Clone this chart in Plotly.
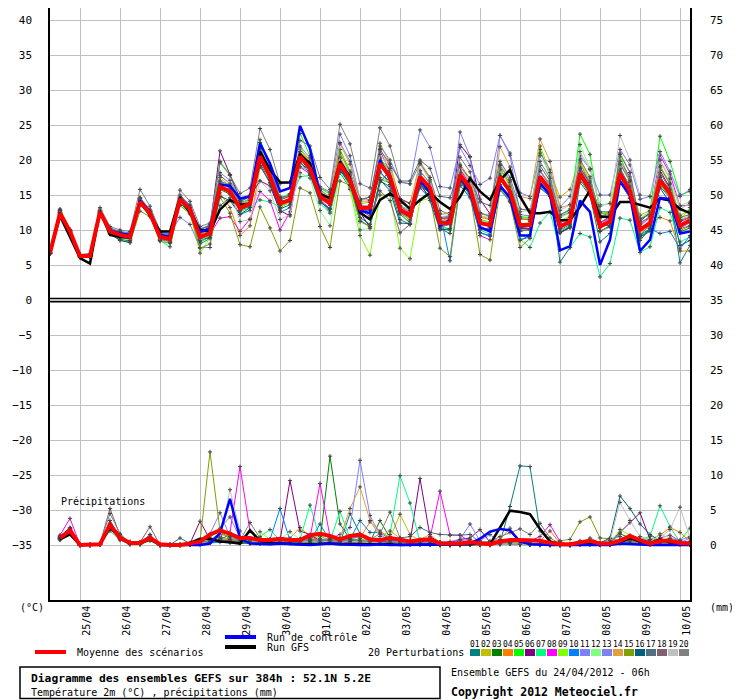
import pandas as pd
import plotly.graph_objects as go

# 6-hourly steps, 24/04/2012 06h -> 10/05/2012 06h (384h)
times = pd.date_range("2012-04-24 06:00", periods=65, freq="6h")
day_ticks = pd.date_range("2012-04-25", periods=16, freq="D")
day_labels = ["25/04", "26/04", "27/04", "28/04", "29/04", "30/04", "01/05", "02/05",
              "03/05", "04/05", "05/05", "06/05", "07/05", "08/05", "09/05", "10/05"]
temp_ticks = [-35, -30, -25, -20, -15, -10, -5, 0, 5, 10, 15, 20, 25, 30, 35, 40]
precip_ticks = [0, 5, 10, 15, 20, 25, 30, 35, 40, 45, 50, 55, 60, 65, 70, 75]

member_names = ["01", "02", "03", "04", "05", "06", "07", "08", "09", "10",
                "11", "12", "13", "14", "15", "16", "17", "18", "19", "20"]
member_colors = ["#008080", "#c0c000", "#008000", "#ff8000", "#00ff00", "#800080", "#00ff80",
                 "#ff00ff", "#80ff00", "#0080ff", "#8080ff", "#80ff80", "#8080f0", "#e0a040",
                 "#80a000", "#006080", "#507080", "#806070", "#c0c0c0", "#808080"]

# --- température 2m (°C) ---
temp_mean = [6.7, 12.4, 9.8, 6.3, 6.3, 12.6, 9.8, 9.3,
             9.0, 14.0, 12.4, 9.0, 8.7, 14.4, 12.9, 9.0,
             9.5, 16.2, 15.5, 13.1, 13.8, 20.5, 17.6, 13.8,
             14.3, 20.5, 18.8, 14.8, 13.8, 19.5, 17.1, 13.1,
             13.2, 19.5, 17.6, 12.9, 12.0, 17.6, 16.0, 11.0,
             11.0, 17.9, 16.0, 11.0, 10.7, 17.6, 15.5, 10.7,
             10.7, 17.6, 15.7, 10.5, 11.2, 18.1, 15.7, 10.5,
             11.2, 18.1, 15.5, 10.0, 11.0, 17.1, 15.2, 10.6,
             11.4]
temp_control = [6.7, 12.5, 9.8, 6.3, 6.3, 12.6, 9.9, 9.5,
                9.3, 14.2, 12.6, 9.3, 9.0, 14.5, 13.0, 9.7,
                10.2, 16.5, 16.3, 14.5, 14.8, 22.4, 19.5, 15.5,
                16.0, 24.9, 21.6, 15.0, 13.8, 19.2, 17.0, 12.8,
                12.4, 20.0, 17.2, 12.8, 12.2, 17.0, 15.4, 10.6,
                11.5, 17.5, 15.4, 10.4, 9.8, 16.3, 14.6, 9.2,
                9.2, 16.7, 15.0, 7.1, 7.7, 14.2, 12.6, 5.0,
                8.6, 17.0, 15.0, 7.0, 8.6, 14.6, 14.4, 9.5,
                9.8]
temp_gfs = [6.7, 12.0, 9.0, 6.0, 5.2, 12.7, 9.3, 9.0,
            8.9, 14.0, 12.2, 9.8, 9.8, 14.6, 12.5, 10.0,
            9.8, 12.9, 14.3, 13.6, 13.8, 21.2, 18.6, 16.8,
            16.8, 20.8, 19.5, 15.2, 14.5, 19.8, 17.5, 12.5,
            11.5, 14.3, 15.2, 14.3, 13.0, 14.3, 15.3, 14.0,
            13.0, 14.7, 17.4, 15.5, 14.3, 17.1, 18.6, 14.8,
            12.4, 12.4, 12.6, 11.4, 11.4, 13.3, 15.7, 11.9,
            11.9, 14.0, 14.0, 13.6, 13.2, 14.5, 14.2, 13.0,
            12.4]
temp_perturbations = [
    [6.7, 12.6, 9.6, 6.1, 6.2, 12.5, 9.5, 8.7, 8.4, 13.8, 12.2, 8.8, 8.5, 14.0, 12.6, 8.0,
     8.8, 13.5, 14.6, 12.2, 12.8, 19.6, 16.8, 12.5, 13.2, 19.0, 18.5, 14.2, 12.6, 18.2, 16.0, 11.4,
     10.5, 17.0, 16.2, 11.5, 10.8, 17.5, 15.4, 10.2, 9.5, 16.8, 15.0, 9.6, 9.2, 16.4, 14.3, 8.6,
     9.0, 18.5, 16.3, 5.4, 7.5, 16.8, 14.9, 8.3, 9.5, 18.8, 16.2, 9.0, 10.2, 16.2, 14.6, 5.3, 7.8],
    [6.8, 12.9, 9.9, 6.4, 6.4, 12.8, 10.0, 9.5, 9.1, 14.2, 12.6, 9.2, 8.9, 14.6, 13.2, 9.4,
     9.8, 17.5, 16.2, 13.5, 14.3, 21.8, 18.7, 14.4, 14.8, 21.5, 19.7, 15.5, 14.5, 21.0, 18.3, 13.7,
     14.0, 22.4, 19.5, 14.3, 13.8, 19.6, 17.2, 12.2, 12.5, 18.6, 17.0, 12.3, 12.0, 18.7, 16.4, 11.8,
     11.6, 22.0, 18.2, 14.7, 15.8, 20.2, 17.3, 12.3, 12.6, 19.5, 16.8, 12.1, 12.8, 18.9, 16.5, 12.1, 12.8],
    [6.7, 12.5, 9.7, 6.2, 6.3, 12.5, 9.6, 9.0, 8.7, 13.9, 12.3, 8.9, 8.6, 14.2, 12.8, 8.7,
     9.2, 15.8, 15.1, 12.8, 13.4, 20.2, 17.4, 13.2, 14.0, 19.6, 18.4, 14.9, 13.5, 19.0, 17.0, 12.7,
     12.4, 18.2, 16.9, 12.3, 11.0, 16.5, 15.2, 10.2, 10.0, 16.8, 15.2, 10.4, 10.0, 16.2, 14.8, 9.8,
     10.1, 16.0, 14.8, 9.6, 10.5, 19.8, 16.3, 11.0, 12.0, 17.2, 14.5, 8.5, 10.2, 17.8, 14.9, 9.7, 10.3],
    [6.7, 12.3, 9.8, 6.3, 6.4, 12.7, 10.0, 9.6, 9.3, 14.2, 12.6, 9.2, 8.9, 14.6, 13.0, 9.3,
     9.8, 15.3, 13.2, 9.2, 10.6, 19.0, 17.2, 14.3, 15.0, 21.7, 19.9, 15.9, 15.5, 21.0, 18.2, 14.0,
     14.2, 20.2, 18.5, 13.5, 12.6, 18.4, 16.7, 11.8, 11.6, 19.4, 17.3, 11.8, 11.5, 19.0, 16.2, 11.6,
     11.4, 18.5, 16.6, 11.3, 11.8, 19.0, 16.4, 11.2, 11.5, 16.8, 14.5, 9.2, 10.8, 11.8, 11.3, 7.0, 7.0],
    [6.6, 12.8, 9.9, 6.2, 6.2, 12.4, 9.6, 9.1, 8.8, 13.7, 12.0, 8.7, 8.4, 14.1, 12.5, 8.3,
     9.0, 19.8, 17.9, 13.8, 14.5, 22.9, 19.1, 14.6, 15.2, 23.8, 20.6, 16.0, 15.1, 21.5, 18.4, 13.7,
     12.8, 20.4, 18.0, 13.2, 12.3, 18.0, 16.2, 11.4, 11.2, 18.4, 16.3, 11.5, 11.1, 18.6, 16.8, 11.9,
     11.8, 21.5, 17.7, 12.1, 13.0, 23.7, 20.8, 12.5, 12.2, 20.5, 17.2, 11.4, 12.7, 23.4, 19.8, 15.0, 15.5],
    [6.7, 12.6, 9.8, 6.4, 6.4, 12.8, 10.2, 9.6, 9.2, 14.5, 12.8, 9.4, 9.1, 15.0, 13.4, 9.8,
     10.4, 21.3, 17.9, 14.5, 14.9, 17.0, 16.3, 12.8, 12.0, 20.0, 19.5, 14.3, 13.0, 18.2, 17.8, 12.5,
     10.4, 16.8, 18.5, 14.5, 13.8, 17.7, 15.8, 11.6, 11.8, 22.2, 20.4, 14.4, 12.3, 17.2, 15.4, 10.2,
     10.2, 17.5, 15.4, 9.6, 10.4, 17.8, 15.0, 9.8, 10.6, 19.5, 17.2, 11.2, 12.5, 18.5, 16.0, 11.2, 11.8],
    [6.6, 12.2, 9.6, 6.2, 6.2, 12.3, 9.5, 8.9, 8.6, 13.6, 12.0, 8.5, 7.6, 13.8, 12.3, 8.3,
     9.2, 17.0, 15.8, 12.6, 13.2, 14.3, 14.0, 13.3, 14.0, 17.6, 17.8, 13.8, 12.4, 18.4, 16.2, 12.7,
     13.6, 20.0, 16.8, 13.5, 12.8, 18.0, 15.3, 10.5, 10.2, 16.3, 14.8, 10.0, 9.4, 16.0, 14.1, 8.7,
     7.5, 11.0, 12.6, 7.2, 7.5, 9.5, 9.0, 3.3, 5.2, 11.7, 11.4, 6.8, 7.6, 13.2, 12.5, 8.3, 9.0],
    [6.7, 12.4, 9.9, 6.4, 6.5, 12.7, 10.1, 9.6, 9.3, 14.3, 12.7, 9.3, 9.0, 14.7, 13.6, 9.8,
     9.4, 11.7, 11.9, 9.8, 11.6, 15.5, 14.2, 10.0, 12.6, 19.0, 18.0, 14.0, 13.0, 19.6, 16.8, 12.6,
     12.8, 21.3, 18.3, 13.4, 12.4, 16.2, 14.9, 10.6, 10.8, 18.7, 16.5, 9.2, 8.6, 16.5, 14.8, 10.4,
     10.9, 17.4, 15.5, 10.5, 11.3, 19.0, 16.5, 11.0, 11.8, 19.8, 17.6, 10.6, 11.8, 20.7, 18.0, 13.4, 13.6],
    [6.6, 13.0, 10.0, 6.1, 6.2, 12.6, 9.7, 9.0, 8.6, 13.8, 12.2, 8.6, 8.2, 14.0, 12.5, 6.7,
     8.9, 16.5, 15.2, 12.8, 13.8, 20.2, 17.5, 13.2, 14.0, 21.8, 19.2, 15.2, 14.2, 19.0, 15.8, 9.2,
     6.4, 15.0, 15.0, 7.4, 5.9, 14.2, 14.5, 11.0, 11.5, 18.2, 16.3, 11.3, 10.8, 18.0, 15.4, 10.5,
     10.8, 17.3, 15.6, 11.3, 12.0, 19.8, 17.0, 11.6, 12.5, 21.0, 18.2, 10.4, 10.3, 19.9, 17.2, 11.4, 13.2],
    [6.7, 12.4, 9.7, 6.2, 6.3, 12.4, 9.9, 9.8, 9.6, 14.4, 12.7, 9.6, 9.5, 14.5, 13.0, 10.2,
     10.6, 16.8, 16.0, 13.9, 14.3, 21.6, 18.8, 14.2, 14.0, 20.4, 18.0, 15.8, 14.6, 18.8, 16.5, 12.4,
     13.0, 18.4, 16.5, 12.4, 11.6, 16.0, 14.5, 12.4, 5.6, 16.4, 14.6, 9.6, 9.1, 15.7, 14.2, 8.5,
     9.3, 16.2, 14.8, 10.0, 10.8, 17.2, 15.2, 9.8, 10.5, 16.8, 14.6, 9.3, 10.2, 9.5, 9.8, 7.3, 9.2],
    [6.7, 12.7, 10.0, 6.5, 6.6, 13.0, 10.3, 9.8, 9.5, 14.6, 12.9, 9.6, 9.4, 11.8, 10.8, 7.5,
     7.5, 18.2, 17.1, 14.1, 14.8, 22.5, 19.0, 14.5, 15.0, 22.0, 20.3, 16.2, 15.4, 23.7, 20.6, 14.4,
     14.7, 22.0, 20.0, 16.8, 16.6, 24.3, 21.8, 16.2, 16.0, 21.8, 19.2, 16.5, 17.4, 23.5, 21.0, 15.3,
     14.8, 21.0, 18.6, 13.3, 14.8, 20.6, 18.7, 15.0, 15.0, 21.5, 19.3, 14.4, 14.8, 21.2, 18.4, 14.8, 15.8],
    [6.7, 12.2, 9.8, 6.4, 6.4, 12.6, 9.9, 9.5, 9.2, 14.1, 12.5, 9.1, 8.8, 14.4, 12.9, 8.8,
     9.3, 16.0, 15.6, 13.6, 14.2, 20.8, 17.9, 14.8, 15.0, 18.2, 17.4, 12.8, 10.6, 18.2, 16.4, 10.0,
     10.2, 17.5, 16.8, 12.6, 11.5, 17.0, 15.8, 11.2, 10.9, 18.2, 16.0, 11.4, 11.0, 17.5, 15.5, 10.8,
     11.2, 17.2, 15.6, 11.8, 12.4, 22.2, 18.8, 13.6, 13.8, 19.8, 17.0, 11.7, 12.6, 19.2, 16.8, 13.5, 14.0],
    [6.7, 12.5, 9.8, 6.3, 6.3, 12.5, 9.7, 9.2, 8.9, 14.0, 12.5, 9.0, 8.8, 14.3, 12.9, 9.2,
     9.8, 16.4, 15.5, 13.2, 13.8, 20.0, 17.5, 14.0, 14.4, 20.2, 18.6, 15.0, 14.0, 22.5, 19.8, 13.5,
     13.4, 19.4, 17.8, 12.8, 12.2, 18.5, 16.6, 11.8, 12.0, 24.0, 20.5, 12.5, 12.0, 23.5, 20.7, 12.2,
     12.0, 18.4, 16.3, 11.0, 11.8, 18.7, 16.4, 10.8, 11.6, 18.6, 16.0, 10.2, 11.0, 17.6, 15.4, 10.3, 11.0],
    [6.7, 12.6, 10.0, 6.4, 6.3, 12.7, 10.0, 9.4, 9.1, 14.3, 12.6, 9.1, 8.9, 14.7, 13.2, 9.4,
     10.0, 16.9, 16.0, 13.7, 14.5, 19.0, 17.2, 13.5, 14.1, 20.8, 19.2, 15.6, 14.8, 22.3, 19.4, 14.5,
     14.3, 21.6, 19.0, 14.0, 13.2, 19.8, 17.5, 11.6, 11.4, 19.2, 17.0, 12.0, 11.6, 21.9, 19.0, 14.8,
     14.5, 23.0, 19.8, 13.2, 13.6, 19.6, 16.8, 11.8, 12.0, 18.4, 16.0, 10.8, 12.0, 19.2, 16.5, 11.5, 12.0],
    [6.7, 12.8, 9.9, 6.2, 6.2, 12.3, 9.4, 8.6, 8.2, 12.7, 11.9, 8.4, 8.1, 13.5, 12.3, 7.4,
     8.0, 14.7, 12.4, 7.9, 7.6, 13.3, 10.3, 7.0, 8.5, 16.0, 15.3, 10.5, 7.5, 17.0, 16.4, 11.2,
     10.5, 17.2, 16.8, 12.6, 11.3, 16.6, 14.7, 7.4, 6.2, 16.8, 15.2, 6.5, 5.7, 15.8, 14.0, 7.5,
     8.8, 16.5, 15.0, 9.8, 10.6, 17.3, 15.0, 9.9, 10.4, 17.6, 15.3, 9.4, 10.6, 16.6, 14.6, 9.9, 10.6],
    [6.7, 12.3, 9.6, 6.2, 6.2, 12.4, 9.5, 8.5, 8.2, 13.6, 12.1, 8.6, 8.3, 13.9, 12.4, 8.6,
     8.9, 14.8, 14.2, 12.2, 13.2, 19.2, 16.7, 13.0, 13.6, 19.8, 18.0, 14.0, 13.0, 18.6, 16.5, 11.8,
     10.8, 17.2, 15.6, 11.0, 10.9, 16.8, 14.2, 10.0, 10.2, 17.0, 15.3, 10.1, 10.3, 17.8, 15.2, 10.3,
     10.5, 17.6, 15.5, 9.6, 10.3, 18.5, 16.2, 10.7, 10.6, 17.8, 15.0, 9.0, 9.8, 16.0, 13.9, 7.8, 8.5],
    [6.7, 12.5, 9.9, 6.4, 6.5, 12.8, 10.2, 9.7, 9.4, 14.5, 12.8, 9.5, 9.3, 14.8, 13.5, 10.1,
     10.5, 17.0, 16.4, 14.0, 14.8, 21.2, 18.4, 14.6, 15.0, 20.6, 19.0, 15.3, 14.4, 20.0, 18.2, 14.3,
     14.7, 21.5, 19.4, 17.0, 17.0, 20.0, 18.8, 14.8, 14.6, 19.0, 17.4, 14.0, 13.5, 19.8, 17.5, 13.0,
     12.8, 19.2, 17.0, 12.2, 12.8, 18.8, 16.8, 12.6, 12.6, 18.0, 16.3, 11.6, 12.2, 17.5, 15.7, 11.8, 12.2],
    [6.7, 12.4, 9.8, 6.3, 6.4, 12.7, 10.1, 9.6, 9.3, 14.6, 12.8, 9.4, 9.2, 14.5, 13.2, 10.0,
     10.8, 17.8, 16.6, 14.2, 15.0, 21.6, 18.5, 14.3, 14.8, 21.2, 19.4, 14.8, 13.8, 20.2, 17.6, 12.8,
     12.0, 15.6, 14.2, 9.6, 10.8, 17.0, 15.1, 10.4, 10.8, 18.0, 16.2, 10.9, 10.5, 17.2, 15.3, 10.0,
     10.0, 17.0, 15.4, 10.2, 11.0, 17.9, 15.8, 10.3, 11.0, 20.8, 18.2, 11.0, 11.8, 18.2, 15.8, 10.2, 10.6],
    [6.7, 12.3, 9.7, 6.2, 6.2, 12.4, 9.6, 9.0, 8.5, 13.7, 12.2, 8.5, 8.3, 14.0, 12.6, 8.5,
     9.3, 16.2, 15.8, 11.2, 11.5, 17.0, 15.6, 11.5, 12.2, 19.0, 18.6, 14.6, 14.0, 20.4, 18.0, 14.2,
     14.0, 20.8, 18.8, 13.8, 13.2, 19.4, 17.0, 12.3, 12.0, 19.0, 17.0, 12.0, 11.8, 19.4, 17.2, 12.6,
     12.8, 20.6, 18.2, 12.8, 13.6, 21.2, 18.6, 13.4, 13.8, 23.5, 20.0, 15.0, 14.8, 20.0, 17.4, 13.0, 13.8],
    [6.7, 12.8, 10.1, 6.5, 6.6, 13.2, 10.5, 10.0, 9.8, 15.8, 13.4, 9.9, 9.8, 15.7, 14.1, 10.5,
     11.0, 19.6, 17.8, 15.2, 16.0, 24.5, 21.5, 16.6, 16.8, 22.8, 22.0, 17.5, 15.8, 25.1, 22.3, 16.6,
     16.0, 24.6, 22.0, 16.9, 16.6, 19.5, 17.5, 12.8, 12.2, 20.4, 18.3, 12.4, 12.0, 19.2, 17.0, 11.6,
     11.5, 19.8, 17.4, 12.0, 12.5, 20.0, 17.6, 12.0, 12.4, 19.4, 17.0, 11.0, 11.9, 19.0, 16.6, 11.4, 11.8],
]

# --- précipitations (mm / 6h), pas de valeur à l'échéance 0 ---
precip_mean = [None, 1.0, 2.1, 0.0, 0.05, 0.1, 2.9, 1.0,
               0.3, 0.3, 1.0, 0.1, 0.0, 0.0, 0.2, 0.5,
               1.5, 2.1, 1.6, 1.0, 1.0, 0.7, 0.7, 0.9,
               0.7, 0.7, 1.4, 1.6, 1.3, 0.8, 1.3, 1.5,
               0.8, 0.7, 1.0, 0.8, 0.5, 0.7, 0.8, 0.2,
               0.2, 0.2, 0.4, 0.2, 0.1, 0.5, 0.7, 0.7,
               0.7, 0.6, 0.3, 0.1, 0.1, 0.3, 0.6, 0.2,
               0.2, 0.6, 1.3, 0.7, 0.2, 0.6, 0.6, 0.3,
               0.2]
precip_control = [None, 1.0, 2.2, 0, 0, 0.1, 2.9, 1.0,
                  0.2, 0.2, 1.0, 0, 0, 0, 0, 0,
                  0.2, 1.7, 6.6, 1.0, 0.2, 0.1, 0.1, 0.2,
                  0.1, 0, 0, 0.1, 0.2, 0.1, 0, 0,
                  0, 0.1, 0, 0, 0, 0, 0, 0,
                  0, 0.1, 0.2, 0.9, 1.9, 2.3, 2.1, 0.5,
                  0.1, 0, 0, 0, 0, 0, 0.1, 0,
                  0, 0.2, 0.1, 0, 0, 0, 0, 0,
                  0]
precip_gfs = [None, 0.8, 1.5, 0, 0, 0.1, 2.5, 1.0,
              0.2, 0.2, 0.8, 0, 0, 0, 0.3, 0.9,
              0.9, 0.5, 0.4, 0.2, 2.1, 0.6, 0.3, 0.2,
              0.2, 0.1, 0.1, 0.2, 0.2, 0.1, 0.1, 0.1,
              0.1, 0.2, 0.1, 0, 0, 0, 0, 0,
              0, 0.1, 0.1, 0.2, 0.1, 2.5, 4.9, 4.7,
              4.4, 2.3, 0.5, 0.1, 0, 0.1, 0.2, 0.1,
              0.1, 0.4, 1.0, 0.5, 0.2, 0.8, 0.4, 0.2,
              0.1]
precip_perturbations = [
    [None, 1.2, 2.2, 0, 0, 0.1, 2.6, 0.8, 0.1, 0.2, 0.8, 0, 0, 1.0, 0.2, 0.3,
     0.6, 1.2, 0.8, 0.3, 0.2, 0.5, 0.2, 0.8, 0.4, 0.3, 0.6, 0.4, 0.5, 0.3, 4.5, 1.6,
     0.3, 0.5, 1.2, 0.3, 0.2, 0.4, 0.3, 0, 0, 0.1, 0.3, 0.2, 0, 0.3, 5.5, 11.3,
     11.2, 2.0, 0.4, 0, 0, 0.6, 0.3, 0.1, 0.2, 0.8, 0.5, 0.2, 0.1, 0.3, 0.4, 0.2, 0.1],
    [None, 0.8, 2.0, 0, 0, 0.2, 2.4, 1.2, 0.3, 0.1, 0.9, 0, 0, 0, 0.1, 0.2,
     0.8, 1.5, 1.2, 0.6, 0.4, 0.2, 0.3, 0.5, 0.2, 0.6, 0.9, 1.2, 0.8, 0.4, 0.6, 0.9,
     0.5, 0.6, 1.0, 4.4, 1.5, 0.6, 0.2, 0.1, 0, 0, 0.1, 0, 0, 0.2, 0.4, 0.3,
     0.2, 0.1, 0, 0, 0, 0.2, 0.1, 0, 0, 0.3, 0.6, 0.2, 0, 0.2, 0.3, 0.1, 0],
    [None, 0.9, 1.8, 0, 0, 0.1, 2.9, 1.1, 0.2, 0.3, 1.1, 0, 0, 0, 0.2, 0.4,
     0.5, 0.8, 0.6, 0.2, 0.3, 0.6, 0.4, 0.3, 0.5, 0.3, 0.8, 0.5, 12.7, 3.0, 0.8, 0.6,
     0.4, 3.5, 1.0, 0.3, 0.2, 0.1, 0.2, 0, 0, 0.1, 0, 0.1, 0.2, 0.5, 0.3, 0.2,
     0.1, 0, 0, 0, 0, 0.3, 0.5, 0.2, 0.3, 1.6, 1.0, 0.4, 0.6, 0.9, 0.3, 0.1, 0.2],
    [None, 1.0, 2.3, 0, 0, 0.2, 3.0, 1.3, 0.2, 0.1, 0.9, 0, 0, 0, 0.1, 0.2,
     0.4, 1.0, 0.9, 0.5, 0.3, 0.4, 0.6, 0.8, 1.0, 2.5, 1.2, 0.6, 0.8, 0.5, 1.2, 1.0,
     3.3, 2.0, 1.0, 0.5, 0.3, 0.2, 0.3, 0.1, 0, 0.2, 0.3, 0.4, 0.5, 0.8, 2.4, 0.6,
     0.4, 0.6, 2.0, 0.3, 0, 0.2, 0.1, 0.1, 0, 0.2, 0.4, 0.6, 0.8, 1.4, 2.5, 1.8, 0.5],
    [None, 0.7, 1.9, 0, 0, 0.1, 2.2, 1.4, 0.3, 0.2, 0.8, 0, 0, 0, 0.1, 0.3,
     0.6, 1.8, 1.0, 0.4, 0.2, 0.6, 0.4, 0.5, 0.6, 0.4, 0.3, 0.5, 0.4, 0.8, 0.5, 0.6,
     0.3, 0.2, 0.4, 0.2, 0.1, 0.1, 0, 0, 0, 0, 0.1, 0.2, 0.1, 0.1, 0.2, 0.1,
     0, 0.1, 0, 0, 0, 0.1, 0.2, 0, 0.1, 0.5, 1.2, 0.5, 0.2, 0.6, 1.0, 0.6, 2.4],
    [None, 1.1, 2.5, 0, 0, 0.1, 3.5, 1.0, 0.1, 0.3, 1.4, 0, 0, 0, 0.2, 3.4,
     0.8, 0.6, 0.5, 0.4, 0.3, 0.2, 0.4, 0.6, 9.2, 2.0, 1.5, 0.6, 0.4, 0.5, 0.3, 0.4,
     0.6, 0.5, 0.3, 0.2, 0.4, 9.5, 1.2, 0.4, 0.3, 0.8, 1.0, 2.2, 0.4, 0.2, 0.2, 0.1,
     0.1, 0, 0, 0, 0, 0.1, 0.2, 0.1, 0.4, 1.8, 3.2, 4.6, 0.8, 0.5, 0.3, 0.2, 0.1],
    [None, 0.9, 1.6, 0, 0, 0.2, 2.0, 0.7, 0.1, 0.1, 0.6, 0, 0, 0, 0.2, 0.4,
     0.4, 0.6, 0.8, 0.5, 0.6, 1.2, 2.2, 0.7, 0.5, 0.8, 5.7, 0.9, 0.6, 4.8, 1.0, 0.7,
     0.5, 0.6, 1.5, 9.9, 6.0, 0.4, 0.2, 0.1, 0, 0, 0.1, 0.1, 0, 0.2, 0.3, 0.3,
     0.2, 0.1, 0, 0, 0, 0.1, 0.3, 0.1, 0.2, 0.6, 0.9, 0.8, 1.2, 5.6, 2.6, 0.4, 0.3],
    [None, 1.4, 3.8, 0, 0, 0.2, 3.1, 1.5, 0.3, 0.2, 1.1, 0, 0, 0, 0.1, 0.3,
     0.5, 1.4, 1.8, 11.2, 2.0, 0.5, 0.4, 0.6, 0.4, 0.9, 1.0, 8.8, 1.2, 0.6, 0.8, 0.4,
     0.3, 0.4, 0.5, 0.6, 0.4, 0.3, 1.0, 7.7, 1.4, 1.4, 0.5, 0.2, 0.3, 0.6, 0.4, 0.3,
     0.6, 1.2, 2.9, 0.5, 0, 0.1, 0.2, 0.1, 0.2, 0.4, 0.6, 0.3, 0.2, 1.0, 1.4, 0.6, 0.4],
    [None, 1.0, 2.1, 0, 0, 0.1, 2.5, 0.9, 0.5, 0.4, 0.8, 0, 0, 0, 0.3, 0.6,
     0.5, 1.8, 1.0, 0.7, 0.6, 1.9, 0.8, 0.5, 0.6, 0.4, 0.5, 0.8, 1.0, 0.6, 0.4, 0.5,
     0.8, 0.6, 0.5, 0.8, 0.4, 0.2, 0.2, 0.1, 0, 0.1, 0.2, 0.1, 0, 0.3, 0.5, 0.2,
     0.1, 0.2, 0.1, 0, 0, 0.2, 0.3, 0.1, 0.3, 2.2, 1.4, 0.6, 0.3, 0.4, 0.5, 0.3, 0.2],
    [None, 1.3, 2.4, 0, 0, 0.1, 2.7, 1.2, 0.2, 0.1, 1.0, 0, 0, 0, 0.1, 0,
     0.3, 0.4, 0.3, 0.5, 0.4, 0.6, 0.8, 5.2, 0.6, 0.7, 0.5, 3.0, 0.6, 0.5, 0.8, 3.5,
     1.8, 1.8, 0.8, 0.3, 0.2, 0.1, 0.1, 0, 0, 0, 0.1, 0, 0.1, 0.3, 0.2, 0.1,
     0.1, 0, 0, 0, 0, 0.1, 0.1, 0, 0, 0.3, 0.4, 0.8, 0.6, 0.3, 0.2, 0.1, 0],
    [None, 1.1, 2.2, 0, 0, 0.1, 2.8, 1.0, 0.2, 0.2, 1.0, 0, 0, 0, 0.1, 0.2,
     1.6, 4.6, 1.2, 0.5, 0.4, 0.6, 0.8, 0.5, 0.4, 0.5, 0.6, 0.7, 0.9, 1.5, 2.5, 12.1,
     4.2, 1.5, 0.6, 0.4, 0.3, 0.2, 0.6, 0.4, 0.5, 0.8, 3.0, 0.6, 1.5, 0.3, 0.2, 0.1,
     0.2, 0.1, 0, 0, 0, 0.2, 0.4, 0.2, 0.9, 1.2, 0.8, 0.6, 0.4, 0.5, 0.8, 0.7, 1.2],
    [None, 0.8, 1.7, 0, 0, 0.2, 2.3, 0.9, 0.2, 0.2, 0.7, 0, 0, 0, 0.1, 0.3,
     0.5, 0.9, 0.7, 0.6, 0.5, 0.4, 0.6, 0.8, 1.9, 0.8, 0.7, 0.6, 0.5, 0.9, 0.7, 0.5,
     0.4, 0.3, 0.2, 0.5, 0.6, 0.3, 0.2, 0.1, 0, 0, 0.2, 0.1, 0, 0.2, 0.3, 0.2,
     0.3, 0.2, 0.1, 0, 0, 0.2, 0.4, 0.1, 0.1, 0.6, 1.0, 0.8, 0.4, 1.6, 0.9, 0.3, 0.2],
    [None, 0.9, 2.0, 0, 0, 0.1, 2.6, 1.1, 0.2, 0.2, 0.9, 0, 0, 0, 0.1, 0.3,
     1.0, 2.4, 4.0, 1.0, 0.4, 0.5, 0.6, 0.4, 0.6, 0.4, 0.5, 0.6, 0.6, 0.8, 0.9, 1.2,
     0.8, 0.6, 0.4, 0.3, 0.3, 0.4, 0.3, 0.2, 0.2, 0.6, 0.8, 0.3, 0.2, 0.1, 0.2, 0.1,
     0.1, 0, 0, 0, 0, 0.1, 0.2, 0.1, 0.6, 0.4, 0.5, 0.3, 0.2, 0.3, 0.4, 0.3, 1.0],
    [None, 1.0, 2.0, 0, 0, 0.1, 2.7, 1.0, 0.2, 0.2, 1.0, 0, 0, 0, 0.1, 0.2,
     0.6, 1.0, 0.8, 0.4, 0.3, 0.4, 0.5, 0.6, 0.5, 0.7, 0.8, 0.6, 0.7, 1.0, 5.2, 8.3,
     3.5, 1.2, 2.0, 1.0, 0.6, 0.8, 1.5, 0.4, 0.3, 0.2, 0.4, 0.3, 0.2, 0.4, 0.6, 0.3,
     0.2, 0.2, 0.1, 0, 0, 0.2, 0.3, 0.1, 0.2, 0.4, 0.6, 0.5, 0.3, 0.6, 0.5, 0.3, 0.2],
    [None, 0.8, 1.8, 0, 0, 0.1, 2.5, 1.0, 0.2, 0.2, 0.8, 0, 0, 0, 0.2, 0.5,
     13.3, 2.0, 0.8, 0.5, 0.4, 0.6, 0.5, 0.4, 0.5, 0.4, 0.6, 0.5, 0.4, 0.5, 0.6, 0.4,
     0.3, 0.4, 0.3, 0.2, 0.1, 0.1, 0.1, 0, 0, 0, 0.1, 0, 0, 0.2, 0.2, 0.1,
     0.1, 0.2, 0.4, 0.6, 0.8, 3.3, 4.0, 1.0, 0.9, 0.6, 0.5, 0.3, 0.2, 0.3, 0.2, 0.1, 0],
    [None, 0.9, 2.0, 0, 0, 0.1, 2.4, 0.8, 0.2, 0.2, 0.9, 0, 0, 0, 0.1, 0.2,
     0.4, 0.6, 0.5, 0.4, 0.3, 0.4, 0.6, 0.5, 0.4, 0.5, 0.6, 0.5, 0.5, 0.6, 0.7, 0.4,
     0.3, 0.2, 0.3, 0.2, 0.1, 0.2, 0.1, 0, 0, 0, 0.1, 0, 0.1, 0.2, 0.3, 0.2,
     0.1, 0.1, 0, 0, 0, 0.1, 0.2, 0.3, 1.0, 7.0, 5.2, 3.0, 1.5, 0.6, 0.4, 0.2, 0.1],
    [None, 1.0, 2.1, 0, 0, 0.1, 2.8, 1.0, 0.2, 0.3, 1.0, 0, 0, 0, 0.2, 0.3,
     0.6, 0.8, 1.5, 0.5, 0.4, 0.4, 0.5, 0.6, 0.5, 0.6, 0.5, 0.7, 0.6, 0.5, 0.8, 0.6,
     0.5, 0.4, 0.6, 1.0, 1.2, 2.5, 1.8, 1.5, 1.4, 1.4, 1.5, 0.4, 0.2, 0.2, 0.3, 0.2,
     0.1, 0.2, 0.1, 0, 0, 0.3, 0.5, 0.2, 0.3, 0.6, 0.8, 0.5, 0.4, 0.5, 0.6, 0.3, 0.2],
    [None, 1.2, 2.4, 0, 0, 0.2, 5.2, 1.4, 0.3, 0.4, 2.6, 0, 0, 0, 0.1, 0.2,
     0.5, 0.7, 0.6, 0.4, 0.5, 0.6, 0.4, 0.5, 0.6, 0.5, 0.4, 0.6, 0.8, 0.5, 0.4, 0.5,
     0.4, 0.3, 0.2, 0.2, 0.1, 0.1, 0.1, 0, 0, 0, 0.1, 0.1, 0, 0.2, 0.2, 0.1,
     0.1, 0.1, 0, 0, 0, 0.2, 0.1, 0, 0.2, 0.5, 0.6, 0.4, 0.3, 0.8, 0.4, 0.2, 0.1],
    [None, 0.9, 2.0, 0, 0, 0.1, 2.6, 0.9, 0.2, 0.2, 0.8, 0, 0, 0, 0.1, 0.2,
     0.5, 1.0, 7.9, 2.0, 0.6, 0.5, 0.4, 0.5, 0.4, 0.6, 0.5, 0.6, 0.4, 0.6, 0.5, 0.4,
     0.3, 0.3, 0.2, 0.2, 0.1, 0.2, 0.1, 0, 0, 0, 0.1, 0, 0, 0.1, 0.2, 0.1,
     0.1, 0, 0, 0, 0, 0.2, 0.3, 0.2, 0.6, 6.1, 3.5, 1.2, 0.8, 1.0, 2.2, 5.4, 1.0],
    [None, 1.1, 2.3, 0, 0, 0.2, 4.5, 1.6, 0.3, 0.3, 1.5, 0, 0, 0, 0.1, 0.2,
     0.4, 0.6, 0.8, 0.6, 3.2, 1.0, 0.5, 0.4, 0.5, 0.6, 0.8, 0.7, 0.6, 0.5, 0.8, 0.6,
     0.8, 1.6, 4.7, 1.0, 0.4, 0.3, 0.2, 0.1, 0, 0.1, 0.2, 0.3, 0.5, 1.2, 1.8, 2.3,
     1.5, 3.1, 1.0, 0.2, 0, 0.2, 1.0, 0.3, 0.2, 0.5, 0.6, 0.3, 0.2, 0.4, 0.3, 0.2, 0.1],
]

FONT = "DejaVu Sans Mono"
marker_style = dict(symbol="cross-thin", size=3, line=dict(width=1))

# the page body adds an 8px margin, so the figure is 732x692 and everything
# is placed in page pixels: plot area = columns 50..690, rows 8..600
PAGE_OFFSET = 8
TOP_ROW = 8


def px(x):
    # page pixel column -> paper x
    return (x - 50) / 640


def py(y):
    # page pixel row -> paper y
    return (600 - y) / (600 - TOP_ROW)


fig = go.Figure()

for name, color, values in zip(member_names, member_colors, temp_perturbations):
    fig.add_trace(go.Scatter(x=times, y=values, mode="lines+markers", name=name,
                             line=dict(color=color, width=1),
                             marker=dict(color=color, **marker_style)))
for name, color, values in zip(member_names, member_colors, precip_perturbations):
    fig.add_trace(go.Scatter(x=times, y=values, mode="lines+markers", name=name, yaxis="y2",
                             line=dict(color=color, width=1),
                             marker=dict(color=color, **marker_style)))

for values, axis in [(temp_gfs, "y"), (precip_gfs, "y2")]:
    fig.add_trace(go.Scatter(x=times, y=values, mode="lines", yaxis=axis, name="Run GFS",
                             line=dict(color="black", width=2.5)))
for values, axis in [(temp_control, "y"), (precip_control, "y2")]:
    fig.add_trace(go.Scatter(x=times, y=values, mode="lines", yaxis=axis, name="Run de contrôle",
                             line=dict(color="#0000ff", width=2.5)))
for values, axis in [(temp_mean, "y"), (precip_mean, "y2")]:
    fig.add_trace(go.Scatter(x=times, y=values, mode="lines", yaxis=axis,
                             name="Moyenne des scénarios",
                             line=dict(color="#ff0000", width=4)))

# double trait séparant les deux panneaux
for level in (0.2, -0.25):
    fig.add_shape(type="line", xref="paper", x0=0, x1=1, yref="y", y0=level, y1=level,
                  line=dict(color="black", width=1.5))

# légende dessinée
fig.add_shape(type="rect", xref="paper", yref="paper", x0=px(35), x1=px(66),
              y0=py(654), y1=py(650), fillcolor="#ff0000", line_width=0)
fig.add_shape(type="rect", xref="paper", yref="paper", x0=px(225), x1=px(256),
              y0=py(639), y1=py(635), fillcolor="#0000ff", line_width=0)
fig.add_shape(type="rect", xref="paper", yref="paper", x0=px(225), x1=px(256),
              y0=py(649), y1=py(645), fillcolor="black", line_width=0)
for k, (name, color) in enumerate(zip(member_names, member_colors)):
    left = 470 + 11 * k
    fig.add_shape(type="rect", xref="paper", yref="paper", x0=px(left), x1=px(left + 10),
                  y0=py(656), y1=py(649), fillcolor=color, line_width=0)
    fig.add_annotation(x=px(left + 5), y=py(644), xref="paper", yref="paper", text=name,
                       showarrow=False, xanchor="center", yanchor="middle",
                       font=dict(family=FONT, size=8, color="black"))
fig.add_shape(type="rect", xref="paper", yref="paper", x0=px(20), x1=px(440),
              y0=py(698.5), y1=py(667), line=dict(color="black", width=1.5))

texts = [
    (75, 652, "Moyenne des scénarios", "left", 10, False),
    (265, 637, "Run de contrôle", "left", 10, False),
    (265, 647, "Run GFS", "left", 10, False),
    (466, 652, "20 Perturbations", "right", 10, False),
    (29, 678, "Diagramme des ensembles GEFS sur 384h : 52.1N 5.2E", "left", 11.3, True),
    (29, 692, "Température 2m (°C) , précipitations (mm)", "left", 10, False),
    (449, 672, "Ensemble GEFS du 24/04/2012 - 06h", "left", 10, False),
    (449, 692, "Copyright 2012 Meteociel.fr", "left", 11.5, True),
    (59, 501, "Précipitations", "left", 10, False),
    (32, 607, "(°C)", "center", 10, False),
    (722, 607, "(mm)", "center", 10, False),
]
for x, y, text, anchor, size, bold in texts:
    fig.add_annotation(x=px(x), y=py(y), xref="paper", yref="paper",
                       text=f"<b>{text}</b>" if bold else text, showarrow=False,
                       xanchor=anchor, yanchor="middle",
                       font=dict(family=FONT, size=size, color="black"))

fig.update_layout(
    width=740 - PAGE_OFFSET, height=700 - PAGE_OFFSET,
    margin=dict(l=50 - PAGE_OFFSET, r=50, t=0, b=100, pad=0),
    paper_bgcolor="white", plot_bgcolor="white",
    showlegend=False,
    font=dict(family=FONT, size=11, color="black"),
    xaxis=dict(type="date", range=[times[0], times[-1]],
               tickvals=day_ticks, ticktext=day_labels, tickangle=-90,
               ticklabelshift=7, tickfont=dict(size=10),
               showgrid=True, gridcolor="#c0c0c0", gridwidth=1,
               showline=True, linecolor="black", linewidth=1.5, ticks="",
               zeroline=False),
    yaxis=dict(range=[-300 / 7, (300 - TOP_ROW) / 7], tickvals=temp_ticks,
               showgrid=True, gridcolor="#c0c0c0", gridwidth=1, zeroline=False,
               showline=True, linecolor="black", linewidth=1.5, ticks="",
               ticklabelstandoff=14),
    yaxis2=dict(range=[-55 / 7, (545 - TOP_ROW) / 7], tickvals=precip_ticks,
                overlaying="y", side="right",
                showgrid=False, zeroline=False, showline=True, linecolor="black",
                linewidth=1.5, ticks="", ticklabelstandoff=16),
)

fig.write_html("out.html")
